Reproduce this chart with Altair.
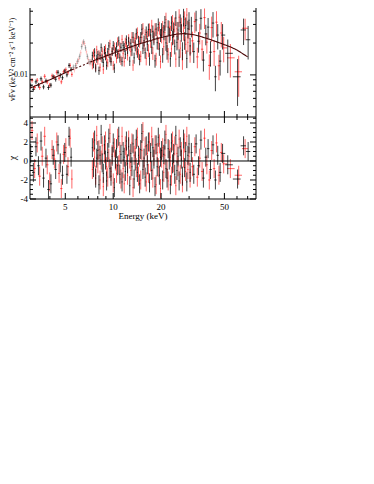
import altair as alt
import pandas as pd
import numpy as np

W, H_TOP, H_ALL = 226, 109, 191
FONT = "Liberation Serif"

# ---------------- model continuum ----------------
model_E = [3.0, 4.0, 5.0, 5.5, 6.0, 7.0, 7.4, 8.0, 10.0, 12.0, 15.0, 20.0, 25.0, 28.0,
           32.0, 35.0, 40.0, 47.0, 55.0, 60.0, 70.0]
model_F = [0.0075, 0.0090, 0.0105, 0.0112, 0.0118, 0.0130, 0.0135, 0.0141, 0.0160, 0.0177,
           0.0199, 0.0226, 0.0243, 0.0246, 0.0240, 0.0232, 0.0218, 0.0200, 0.0183, 0.0172, 0.0148]

# ---------------- 3-5.5 keV ----------------
A_low_E = [3.03, 3.15, 3.27, 3.39, 3.52, 3.65, 3.78, 3.92, 4.06, 4.20, 4.35, 4.50, 4.65, 4.80,
           4.96, 5.12, 5.28, 5.44]
A_low_F = [0.0079, 0.0073, 0.0086, 0.0080, 0.0092, 0.0077, 0.0088, 0.0076, 0.0080, 0.0096,
           0.0091, 0.0106, 0.0099, 0.0094, 0.0109, 0.0100, 0.0123, 0.0113]
A_low_err = [5, 5, 5, 5, 5, 5, 5, 5, 5, 5, 5, 5, 5, 5, 5, 5, 5, 5]
A_low_chi = [0.8, -1.2, 1.5, -0.5, 2.1, -1.8, 0.3, -3.0, -2.4, 0.6, -0.9, 1.7, -0.2, -1.5,
             0.9, -1.4, 2.6, 0.4]

B_low_E = [3.09, 3.21, 3.33, 3.45, 3.58, 3.71, 3.85, 3.99, 4.13, 4.27, 4.42, 4.57, 4.72, 4.88,
           5.04, 5.20, 5.36, 5.50]
B_low_F = [0.0089, 0.0076, 0.0089, 0.0076, 0.0086, 0.0097, 0.0086, 0.0080, 0.0098, 0.0095,
           0.0106, 0.0093, 0.0086, 0.0107, 0.0112, 0.0105, 0.0123, 0.0101]
B_low_err = [5, 5, 5, 5, 5, 5, 5, 5, 5, 5, 5, 5, 5, 5, 5, 5, 5, 5]
B_low_chi = [3.2, -0.8, 1.9, -1.6, 0.5, 2.6, -0.4, -2.2, 1.2, 0.2, 2.0, -1.3, -2.9, 0.7,
             1.4, -0.6, 2.4, -1.9]

# ---------------- 5.5-7.4 keV (ignored, drawn faint) ----------------
A_fnt_E = [5.62, 5.80, 5.98, 6.16, 6.34, 6.52, 6.70, 6.88, 7.06, 7.24]
A_fnt_F = [0.0118, 0.0122, 0.0135, 0.0150, 0.0185, 0.0205, 0.0180, 0.0150, 0.0133, 0.0133]
A_fnt_err = [6, 6, 6, 6, 6, 6, 6, 6, 6, 6]
B_fnt_E = [5.71, 5.89, 6.07, 6.25, 6.43, 6.61, 6.79, 6.97, 7.15, 7.33]
B_fnt_F = [0.0112, 0.0128, 0.0140, 0.0162, 0.0200, 0.0198, 0.0165, 0.0140, 0.0128, 0.0138]
B_fnt_err = [6, 6, 6, 6, 6, 6, 6, 6, 6, 6]

# ---------------- 7.4-30 keV (both modules on the same channel grid) ----------------
main_E = [7.40, 7.52, 7.64, 7.76, 7.88, 8.01, 8.14, 8.27, 8.40, 8.53,
          8.67, 8.81, 8.95, 9.09, 9.24, 9.39, 9.54, 9.69, 9.85, 10.01,
          10.17, 10.33, 10.50, 10.67, 10.84, 11.01, 11.19, 11.37, 11.55, 11.73,
          11.92, 12.11, 12.31, 12.51, 12.71, 12.91, 13.12, 13.33, 13.54, 13.76,
          13.98, 14.20, 14.43, 14.66, 14.90, 15.14, 15.38, 15.63, 15.88, 16.13,
          16.39, 16.65, 16.92, 17.19, 17.47, 17.75, 18.03, 18.32, 18.61, 18.91,
          19.21, 19.52, 19.83, 20.15, 20.47, 20.80, 21.13, 21.47, 21.81, 22.16,
          22.52, 22.88, 23.24, 23.61, 23.99, 24.37, 24.76, 25.16, 25.56, 25.97,
          26.39, 26.81, 27.24, 27.68, 28.12, 28.57, 29.03, 29.49, 29.96, 30.44]
main_err = [9, 9, 9, 9, 9, 9, 9, 9, 9, 9, 9, 9, 9, 9, 9, 9, 9, 9, 9, 10,
            10, 10, 10, 10, 10, 10, 10, 10, 10, 10, 10, 10, 10, 10, 10, 10, 12, 12, 12, 12,
            12, 12, 12, 12, 12, 12, 12, 12, 12, 14, 14, 14, 14, 14, 14, 14, 14, 14, 14, 14,
            14, 14, 14, 16, 16, 16, 16, 16, 16, 16, 16, 16, 16, 16, 16, 16, 16, 16, 19, 19,
            19, 19, 19, 19, 19, 19, 19, 19, 19, 19]
A_main_F = [0.0152, 0.0127, 0.0164, 0.0116, 0.0143, 0.0155, 0.0110, 0.0152, 0.0182, 0.0143,
            0.0131, 0.0172, 0.0151, 0.0123, 0.0165, 0.0188, 0.0145, 0.0134, 0.0166, 0.0190,
            0.0116, 0.0166, 0.0185, 0.0158, 0.0210, 0.0145, 0.0182, 0.0134, 0.0190, 0.0182,
            0.0157, 0.0215, 0.0174, 0.0208, 0.0135, 0.0199, 0.0172, 0.0227, 0.0145, 0.0190,
            0.0245, 0.0165, 0.0209, 0.0140, 0.0227, 0.0270, 0.0179, 0.0210, 0.0162, 0.0252,
            0.0195, 0.0268, 0.0142, 0.0239, 0.0183, 0.0257, 0.0222, 0.0136, 0.0271, 0.0202,
            0.0300, 0.0176, 0.0238, 0.0266, 0.0155, 0.0255, 0.0311, 0.0201, 0.0166, 0.0283,
            0.0239, 0.0142, 0.0309, 0.0227, 0.0270, 0.0186, 0.0345, 0.0203, 0.0266, 0.0147,
            0.0314, 0.0254, 0.0171, 0.0354, 0.0213, 0.0293, 0.0143, 0.0273, 0.0329, 0.0188]
A_main_chi = [1.4, -0.7, 2.2, -1.8, 0.3, 1.1, -2.5, 0.6, 2.8, -0.2,
              -1.3, 1.7, 0.1, -2.1, 0.9, 2.4, -0.8, -1.6, 0.5, 1.9,
              -2.8, 0.2, 1.3, -0.5, 2.6, -1.4, 0.7, -2.2, 1.0, 0.4,
              -1.1, 2.1, -0.3, 1.5, -2.6, 0.8, -0.6, 1.8, -1.9, 0.0,
              2.3, -1.2, 0.6, -2.4, 1.2, 2.9, -0.9, 0.3, -1.7, 1.6,
              -0.4, 2.0, -2.3, 0.9, -1.0, 1.4, 0.2, -2.7, 1.7, -0.6,
              2.5, -1.5, 0.4, 1.1, -2.0, 0.7, 2.2, -0.8, -1.8, 1.3,
              0.1, -2.5, 1.9, -0.3, 0.8, -1.4, 2.7, -1.0, 0.5, -2.1,
              1.5, 0.2, -1.6, 2.3, -0.7, 1.0, -2.2, 0.6, 1.8, -1.2]
B_main_F = [0.0124, 0.0160, 0.0142, 0.0119, 0.0173, 0.0137, 0.0157, 0.0118, 0.0146, 0.0167,
            0.0112, 0.0160, 0.0178, 0.0144, 0.0130, 0.0159, 0.0197, 0.0141, 0.0169, 0.0123,
            0.0184, 0.0163, 0.0143, 0.0206, 0.0160, 0.0186, 0.0138, 0.0217, 0.0159, 0.0133,
            0.0204, 0.0187, 0.0152, 0.0221, 0.0186, 0.0166, 0.0227, 0.0124, 0.0202, 0.0220,
            0.0176, 0.0251, 0.0158, 0.0205, 0.0150, 0.0226, 0.0276, 0.0191, 0.0241, 0.0143,
            0.0230, 0.0171, 0.0269, 0.0209, 0.0291, 0.0161, 0.0231, 0.0270, 0.0142, 0.0249,
            0.0200, 0.0279, 0.0134, 0.0237, 0.0279, 0.0185, 0.0252, 0.0334, 0.0199, 0.0155,
            0.0280, 0.0251, 0.0176, 0.0318, 0.0231, 0.0301, 0.0141, 0.0273, 0.0215, 0.0351,
            0.0179, 0.0292, 0.0138, 0.0260, 0.0335, 0.0195, 0.0368, 0.0203, 0.0268, 0.0161]
B_main_chi = [-0.9, 2.0, 0.4, -1.5, 2.7, -0.3, 1.2, -2.0, 0.1, 1.6,
              -2.7, 0.8, 2.1, -0.6, -1.7, 0.3, 2.9, -1.1, 0.7, -2.3,
              1.4, 0.0, -1.3, 2.4, -0.4, 1.0, -1.9, 2.6, -0.8, -2.4,
              1.6, 0.5, -1.5, 2.2, 0.2, -1.0, 1.9, -2.8, 0.6, 1.3,
              -0.7, 2.5, -1.6, 0.4, -2.0, 1.1, 3.1, -0.5, 1.5, -2.2,
              0.8, -1.3, 2.0, -0.1, 2.6, -1.8, 0.5, 1.7, -2.5, 0.9,
              -0.7, 1.8, -2.9, 0.3, 1.4, -1.2, 0.6, 2.8, -0.9, -2.1,
              1.2, 0.4, -1.6, 2.1, -0.2, 1.6, -2.6, 0.8, -0.6, 2.3,
              -1.4, 1.0, -2.3, 0.3, 1.9, -1.1, 2.6, -0.9, 0.5, -1.8]

# ---------------- 30-50 keV ----------------
A_mid_E = [31.0, 32.1, 33.2, 34.4, 35.6, 36.9, 38.2, 39.5, 40.9, 42.4, 43.9, 45.4, 47.0, 48.7]
A_mid_F = [0.0290, 0.0166, 0.0331, 0.0208, 0.0343, 0.0138, 0.0244, 0.0283, 0.0164, 0.0309,
           0.0096, 0.0238, 0.0135, 0.0238]
A_mid_err = [22, 22, 22, 22, 22, 22, 22, 22, 27, 27, 27, 27, 27, 27]
A_mid_chi = [0.9, -1.4, 1.8, -0.5, 2.2, -1.8, 0.4, 1.3, -0.9, 1.7, -2.0, 0.6, -1.2, 0.8]
B_mid_E = [31.5, 32.6, 33.8, 35.0, 36.2, 37.5, 38.8, 40.2, 41.6, 43.1, 44.6, 46.2, 47.8, 49.5]
B_mid_F = [0.0210, 0.0319, 0.0148, 0.0249, 0.0175, 0.0348, 0.0204, 0.0123, 0.0280, 0.0166,
           0.0315, 0.0122, 0.0249, 0.0180]
B_mid_err = [22, 22, 22, 22, 22, 22, 22, 27, 27, 27, 27, 27, 27, 27]
B_mid_chi = [-0.6, 1.5, -1.7, 0.3, -1.1, 2.4, -0.4, -2.0, 1.1, -0.8, 1.9, -1.5, 0.9, -0.3]

# ---------------- above 50 keV ----------------
A_high_E = [52.5, 60.5, 66.0, 70.5]
A_high_F = [0.0160, 0.0096, 0.0266, 0.0215]
A_high_err = [35, 47, 28, 35]
A_high_chi = [-0.4, -1.9, 1.6, 1.0]
B_high_E = [54.5, 61.5, 67.5]
B_high_F = [0.0145, 0.0107, 0.0276]
B_high_err = [35, 42, 23]
B_high_chi = [-0.8, -1.5, 1.3]

# ---------------- axis ticks and labels ----------------
xt_major = [5, 10, 20, 50]
xt_labels = ["5", "10", "20", "50"]
xt_minor = [4, 6, 7, 8, 9, 30, 40, 60, 70]
yt_top_major = [0.01]
yt_top_labels = ["0.01"]
yt_top_minor = [0.005, 0.006, 0.007, 0.008, 0.009, 0.02, 0.03, 0.04]
yt_bot_major = [-4, -2, 0, 2, 4]
yt_bot_labels = ["-4", "-2", "0", "2", "4"]
yt_bot_minor = [-3.5, -3, -2.5, -1.5, -1, -0.5, 0.5, 1, 1.5, 2.5, 3, 3.5, 4.5]

XS = alt.Scale(type="log", domain=[3, 79], nice=False)
YT = alt.Scale(type="log", domain=[0.004, 0.0429], range=[H_TOP, 0], nice=False)
YB = alt.Scale(type="linear", domain=[-4, 4.63], range=[H_ALL, H_TOP], nice=False, zero=False)


def edges(E):
    lo, hi = [], []
    n = len(E)
    for i in range(n):
        dl = (E[i] - E[i - 1]) / 2 if i > 0 else None
        dr = (E[i + 1] - E[i]) / 2 if i < n - 1 else None
        if dl is None:
            dl = dr
        if dr is None:
            dr = dl
        lo.append(E[i] - dl)
        hi.append(E[i] + dr)
    return lo, hi


def spec_df(E, F, err, chi=None):
    lo, hi = edges(E)
    F = np.array(F, dtype=float)
    r = np.array(err, dtype=float) / 100.0
    d = pd.DataFrame({"E": E, "lo": lo, "hi": hi, "F": F,
                      "Flo": F * (1 - r), "Fhi": F * (1 + r)})
    if chi is not None:
        c = np.array(chi, dtype=float)
        d["chi"] = c
        d["clo"] = c - 1
        d["chup"] = c + 1
    return d


def top_bars(d, color, op):
    base = alt.Chart(d)
    v = base.mark_rule(color=color, opacity=op, strokeWidth=1, clip=True).encode(
        x=alt.X("E:Q", scale=XS, axis=None),
        y=alt.Y("Flo:Q", scale=YT, axis=None), y2="Fhi:Q")
    h = base.mark_rule(color=color, opacity=op, strokeWidth=1, clip=True).encode(
        x=alt.X("lo:Q", scale=XS, axis=None), x2="hi:Q",
        y=alt.Y("F:Q", scale=YT, axis=None))
    return [v, h]


def bot_bars(d, color, op):
    base = alt.Chart(d)
    v = base.mark_rule(color=color, opacity=op, strokeWidth=1, clip=True).encode(
        x=alt.X("E:Q", scale=XS, axis=None),
        y=alt.Y("clo:Q", scale=YB, axis=None), y2="chup:Q")
    h = base.mark_rule(color=color, opacity=op, strokeWidth=1, clip=True).encode(
        x=alt.X("lo:Q", scale=XS, axis=None), x2="hi:Q",
        y=alt.Y("chi:Q", scale=YB, axis=None))
    return [v, h]


dA_low = spec_df(A_low_E, A_low_F, A_low_err, A_low_chi)
dB_low = spec_df(B_low_E, B_low_F, B_low_err, B_low_chi)
dA_fnt = spec_df(A_fnt_E, A_fnt_F, A_fnt_err)
dB_fnt = spec_df(B_fnt_E, B_fnt_F, B_fnt_err)
dA = spec_df(main_E + A_mid_E + A_high_E, A_main_F + A_mid_F + A_high_F,
             main_err + A_mid_err + A_high_err, A_main_chi + A_mid_chi + A_high_chi)
dB = spec_df(main_E + B_mid_E + B_high_E, B_main_F + B_mid_F + B_high_F,
             main_err + B_mid_err + B_high_err, B_main_chi + B_mid_chi + B_high_chi)

rows = []
for e, f in zip(model_E, model_F):
    if e <= 5.5:
        rows.append({"E": e, "F": f, "seg": "a"})
    if 5.5 <= e <= 7.4:
        rows.append({"E": e, "F": f, "seg": "b"})
    if e >= 7.4:
        rows.append({"E": e, "F": f, "seg": "c"})
model_df = pd.DataFrame(rows)

model = alt.Chart(model_df).mark_line(color="#4a0606", strokeWidth=1.1, clip=True).encode(
    x=alt.X("E:Q", scale=XS, axis=None),
    y=alt.Y("F:Q", scale=YT, axis=None),
    detail="seg:N",
    strokeDash=alt.StrokeDash("seg:N", scale=alt.Scale(domain=["a", "b", "c"],
                                                       range=[[1, 0], [2, 2], [1, 0]]),
                              legend=None))


def ytick_layers(vals, scale, length):
    d = pd.DataFrame({"v": vals})
    left = alt.Chart(d).mark_rule(color="black", strokeWidth=1).encode(
        y=alt.Y("v:Q", scale=scale, axis=None), x=alt.value(0), x2=alt.value(length))
    right = alt.Chart(d).mark_rule(color="black", strokeWidth=1).encode(
        y=alt.Y("v:Q", scale=scale, axis=None), x=alt.value(W), x2=alt.value(W - length))
    return [left, right]


def ylabels(vals, labels, scale, size):
    d = pd.DataFrame({"v": vals, "t": labels})
    return alt.Chart(d).mark_text(font=FONT, fontSize=size, align="right", baseline="middle",
                                  color="black").encode(
        y=alt.Y("v:Q", scale=scale, axis=None), x=alt.value(-2), text="t:N")


top_title = alt.Chart(pd.DataFrame({"t": ["νFν (keV² cm⁻² s⁻¹ keV⁻¹)"]})).mark_text(
    font=FONT, fontSize=8, angle=270, align="left", baseline="middle", color="black").encode(
    x=alt.value(-17.5), y=alt.value(93), text="t:N")

top_layers = (top_bars(dB_fnt, "red", 0.2) + top_bars(dA_fnt, "black", 0.3)
              + top_bars(dB_low, "red", 0.6) + top_bars(dA_low, "black", 0.75)
              + top_bars(dB, "red", 0.6) + top_bars(dA, "black", 0.75)
              + [model]
              + ytick_layers(yt_top_major, YT, 6) + ytick_layers(yt_top_minor, YT, 3)
              + [ylabels(yt_top_major, yt_top_labels, YT, 8)])
top = alt.layer(*top_layers)

zero = alt.Chart(pd.DataFrame({"v": [0]})).mark_rule(color="black", strokeWidth=1).encode(
    y=alt.Y("v:Q", scale=YB, axis=None))
bot_layers = (bot_bars(dB_low, "red", 0.6) + bot_bars(dA_low, "black", 0.75)
              + bot_bars(dB, "red", 0.6) + bot_bars(dA, "black", 0.75)
              + [zero]
              + ytick_layers(yt_bot_major, YB, 6) + ytick_layers(yt_bot_minor, YB, 3)
              + [ylabels(yt_bot_major, yt_bot_labels, YB, 9)])
bottom = alt.layer(*bot_layers)


def xtick(vals, y0, y1):
    d = pd.DataFrame({"E": vals})
    return alt.Chart(d).mark_rule(color="black", strokeWidth=1).encode(
        x=alt.X("E:Q", scale=XS, axis=None), y=alt.value(y0), y2=alt.value(y1))


xlab = alt.Chart(pd.DataFrame({"E": xt_major, "t": xt_labels})).mark_text(
    font=FONT, fontSize=9, align="center", baseline="top", color="black").encode(
    x=alt.X("E:Q", scale=XS, axis=None), y=alt.value(H_ALL + 4), text="t:N")
xtitle = alt.Chart(pd.DataFrame({"t": ["Energy (keV)"]})).mark_text(
    font=FONT, fontSize=9, align="center", baseline="top", color="black").encode(
    x=alt.value(W / 2), y=alt.value(H_ALL + 13), text="t:N")
chi_title = alt.Chart(pd.DataFrame({"t": ["χ"]})).mark_text(
    font=FONT, fontSize=10, angle=270, align="center", baseline="middle", color="black").encode(
    x=alt.value(-17), y=alt.value((H_TOP + H_ALL) / 2), text="t:N")

one = pd.DataFrame({"a": [0]})
deco = [
    xtick(xt_major, H_ALL, H_ALL - 6),
    xtick(xt_minor, H_ALL, H_ALL - 3),
    xtick(xt_major, H_TOP, H_TOP - 6),
    xtick(xt_minor, H_TOP, H_TOP - 3),
    xtick(xt_major, H_TOP, H_TOP + 6),
    xtick(xt_minor, H_TOP, H_TOP + 3),
    alt.Chart(one).mark_rule(color="black", strokeWidth=1).encode(
        x=alt.value(W), y=alt.value(0), y2=alt.value(H_ALL)),
    alt.Chart(one).mark_rule(color="black", strokeWidth=1).encode(
        x=alt.value(0), y=alt.value(0), y2=alt.value(H_ALL)),
    alt.Chart(one).mark_rule(color="black", strokeWidth=1).encode(
        x=alt.value(0), x2=alt.value(W), y=alt.value(H_TOP)),
    alt.Chart(one).mark_rule(color="black", strokeWidth=1).encode(
        x=alt.value(0), x2=alt.value(W), y=alt.value(H_ALL)),
    xlab, xtitle, top_title, chi_title,
]

chart = alt.layer(top, bottom, *deco).resolve_scale(y="independent").properties(
    width=W, height=H_ALL,
    autosize=alt.AutoSizeParams(type="none"),
    padding={"left": 22, "top": 0, "right": 10, "bottom": 40},
).configure_view(stroke=None)

chart.save("out.html", embed_options={"renderer": "svg", "actions": False})
